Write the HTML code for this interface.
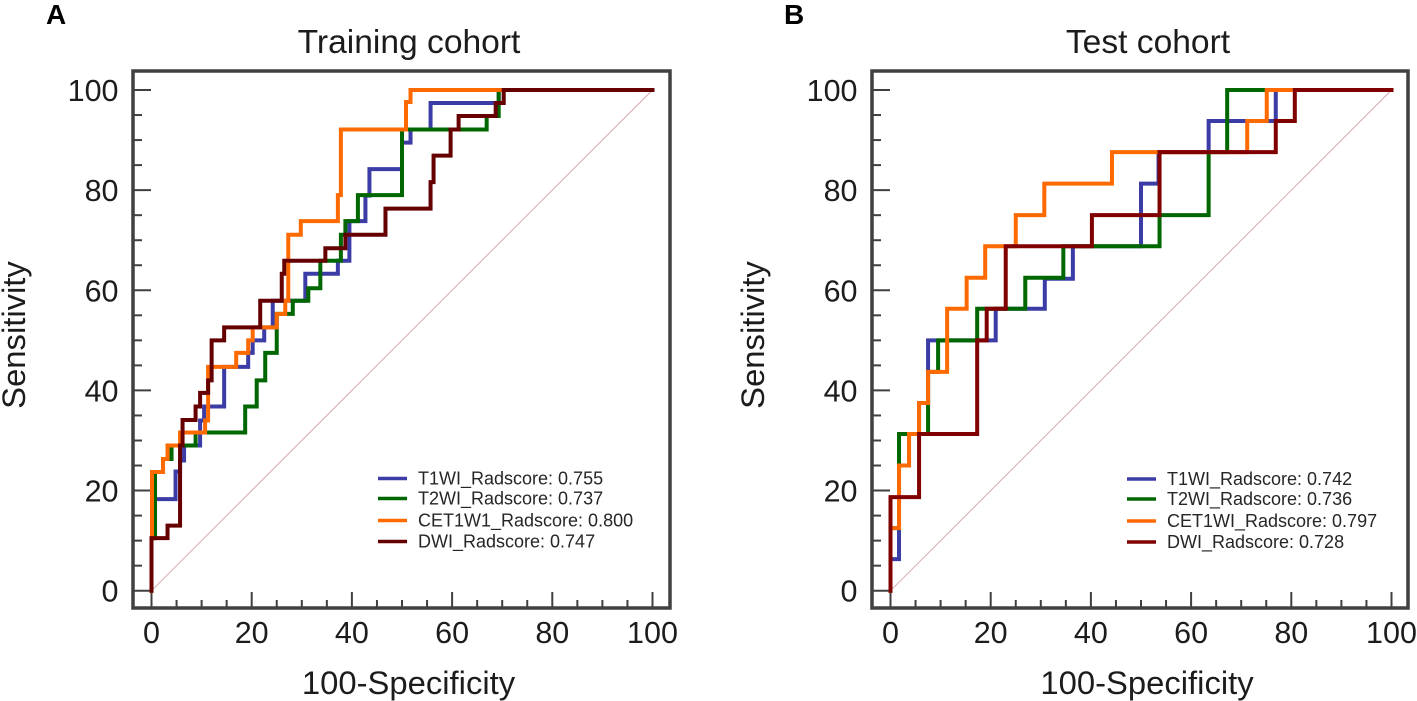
<!DOCTYPE html>
<html lang="en">
<head>
<meta charset="utf-8">
<title>ROC curves: training and test cohorts</title>
<style>
html,body{margin:0;padding:0;background:#fff;width:1417px;height:701px;overflow:hidden}
svg{display:block;font-family:"Liberation Sans",sans-serif;fill:#1c1c1c}
.frame{fill:none;stroke:#404040;stroke-width:3.5}
.tick{stroke:#404040;stroke-width:2}
.num{font-size:30.5px}
.title{font-size:33.6px;text-anchor:middle}
.axis{font-size:32.8px;text-anchor:middle}
.leg{font-size:18px;fill:#262626}
.letter{font-size:28px;font-weight:bold;fill:#000}
.curve{fill:none;stroke-width:4;stroke-linejoin:miter;stroke-linecap:square}
</style>
</head>
<body>
<svg id="figure" width="1417" height="701" viewBox="0 0 1417 701" xmlns="http://www.w3.org/2000/svg">
  <text class="letter" x="46" y="24">A</text>
  <text class="letter" x="784" y="24">B</text>
  <text class="title" x="409" y="53">Training cohort</text>
  <text class="title" x="1148" y="53">Test cohort</text>
  <text class="axis" x="408.5" y="694">100-Specificity</text>
  <text class="axis" x="1147" y="694">100-Specificity</text>
  <text class="axis" transform="translate(25,335) rotate(-90)">Sensitivity</text>
  <text class="axis" transform="translate(764,335) rotate(-90)">Sensitivity</text>
  <rect class="frame" x="133" y="71" width="537" height="537"/>
  <rect class="frame" x="872" y="71" width="536" height="537"/>
  <g id="panel-a"></g>
  <g id="panel-b"></g>
</svg>
<script>
// Shared axis values
const majorTicks = [0, 20, 40, 60, 80, 100];
const minorTicks = [5, 10, 15, 25, 30, 35, 45, 50, 55, 65, 70, 75, 85, 90, 95];
const chanceLineX = [0, 100];
const chanceLineY = [0, 100];

// Training cohort: each point is where a curve rises at x to reach y
const trainT1X = [0, 0.7, 4.8, 5.7, 6.5, 9.7, 10.5, 14.5, 19.3, 20.2, 22.5, 24.2, 30.7, 37.2, 39.5, 42.7, 43.5, 50, 51.7, 55.7, 69.3];
const trainT1Y = [10.5, 18.3, 23.8, 26, 29, 34, 36.8, 44.7, 47.5, 50, 52.6, 57.9, 63.3, 65.9, 73.8, 78.9, 84.2, 89.5, 92.1, 97.4, 100];
const trainT2X = [0, 0.7, 2.3, 4, 8.8, 18.7, 21, 22.7, 25, 28.2, 31.3, 33.7, 37.8, 38.7, 41.2, 50, 66.9, 69.3];
const trainT2Y = [10.5, 23.7, 26.3, 29, 31.6, 36.8, 42, 47.5, 55.3, 57.9, 60.4, 65.9, 71.1, 73.8, 79, 92.1, 94.8, 100];
const trainCetX = [0, 0.1, 2.3, 3.2, 5.7, 10.7, 11.3, 16.9, 19.3, 20.2, 25, 26.7, 27.3, 29.8, 37.2, 37.8, 50.8, 51.7];
const trainCetY = [10.5, 23.7, 26.3, 29, 31.6, 34, 44.7, 47.5, 50, 52.6, 55.3, 57.9, 71.1, 73.8, 79, 92.1, 97.6, 100];
const trainDwiX = [0, 3.2, 5.7, 6.2, 8.8, 9.7, 11.3, 12, 14.5, 21.7, 26, 26.5, 34.7, 38.7, 46.7, 55.7, 56.3, 59.7, 61.3, 68.7, 70.3];
const trainDwiY = [10.5, 13, 29, 34.1, 36.8, 39.5, 42, 50, 52.6, 57.9, 63.3, 65.9, 68.4, 71.1, 76.3, 81.6, 86.9, 92.1, 94.8, 97.4, 100];

// Test cohort
const testT1X = [0, 1.7, 3.7, 5.7, 7.5, 21, 30.8, 36.4, 50, 53.5, 63.5, 76.9];
const testT1Y = [6.3, 25, 31.3, 37.5, 50, 56.3, 62.3, 68.8, 81.3, 87.6, 93.8, 100];
const testT2X = [0, 1.7, 7.5, 9.5, 17.3, 26.9, 34.5, 53.7, 63.5, 67.2];
const testT2Y = [12.5, 31.3, 43.7, 50, 56.3, 62.5, 68.8, 75, 87.6, 100];
const testCetX = [0, 1.7, 3.7, 5.7, 7.5, 11.3, 15.2, 18.9, 25, 30.7, 44.2, 71.2, 75.1];
const testCetY = [12.5, 25, 31.3, 37.5, 43.7, 56.3, 62.5, 68.8, 75, 81.3, 87.6, 93.8, 100];
const testDwiX = [0, 5.7, 17.3, 19.2, 23, 40.2, 53.7, 76.9, 80.7];
const testDwiY = [18.7, 31.3, 50, 56.3, 68.8, 75, 87.6, 93.8, 100];

// Legend entries
const trainLegendLabels = ["T1WI_Radscore: 0.755", "T2WI_Radscore: 0.737", "CET1W1_Radscore: 0.800", "DWI_Radscore: 0.747"];
const testLegendLabels = ["T1WI_Radscore: 0.742", "T2WI_Radscore: 0.736", "CET1WI_Radscore: 0.797", "DWI_Radscore: 0.728"];
const seriesKeys = ["t1wi", "t2wi", "cet1wi", "dwi"];

const NS = "http://www.w3.org/2000/svg";
function make(parent, tag, attrs) {
  const el = document.createElementNS(NS, tag);
  for (const k in attrs) el.setAttribute(k, attrs[k]);
  parent.appendChild(el);
  return el;
}

function drawPanel(opts) {
  const g = document.getElementById(opts.id);
  const sx = v => opts.x0 + v * opts.xUnit;
  const sy = v => 590.7 - v * 5.007;

  majorTicks.forEach(v => {
    const yt = make(g, "line", {class: "tick", x1: opts.left, x2: opts.left + 18, y1: sy(v), y2: sy(v)});
    
    
    const xt = make(g, "line", {class: "tick", x1: sx(v), x2: sx(v), y1: 608, y2: 592});
    
    
    const yl = make(g, "text", {class: "num", x: opts.left - 14.5, y: sy(v) + 11, "text-anchor": "end"});
    yl.textContent = v;
    
    
    const xl = make(g, "text", {class: "num", x: sx(v), y: 643, "text-anchor": "middle"});
    xl.textContent = v;
    
    
  });
  minorTicks.forEach(v => {
    const yt = make(g, "line", {class: "tick", x1: opts.left, x2: opts.left + 9, y1: sy(v), y2: sy(v)});
    
    
    const xt = make(g, "line", {class: "tick", x1: sx(v), x2: sx(v), y1: 608, y2: 600});
    
    
  });

  const chance = make(g, "line", {
    x1: sx(chanceLineX[0]), y1: sy(chanceLineY[0]),
    x2: sx(chanceLineX[1]), y2: sy(chanceLineY[1]),
    stroke: "#d6a9ab", "stroke-width": 1
  });
  
  

  opts.series.forEach((s, i) => {
    let d = "M" + sx(s.xs[0]) + " " + sy(0);
    s.xs.forEach((x, j) => {
      d += " H" + sx(x) + " V" + sy(s.ys[j]);
    });
    d += " H" + sx(100);
    const path = make(g, "path", {class: "curve", d: d, stroke: s.color});
    
    

    const ly = opts.legendY[i];
    const swatch = make(g, "line", {x1: opts.legendX, x2: opts.legendX + 29, y1: ly, y2: ly, stroke: s.color, "stroke-width": 3.5});
    
    
    const label = make(g, "text", {class: "leg", x: opts.legendX + 40, y: ly + 6});
    label.textContent = opts.labels[i];
    
    
  });
}

drawPanel({
  id: "panel-a", left: 133, x0: 151.5, xUnit: 5.01,
  legendX: 378, legendY: [478.5, 498.5, 520.5, 541.5], labels: trainLegendLabels,
  series: [
    {xs: trainT1X, ys: trainT1Y, color: "#3c3ca6"},
    {xs: trainT2X, ys: trainT2Y, color: "#006600"},
    {xs: trainCetX, ys: trainCetY, color: "#ff6a00"},
    {xs: trainDwiX, ys: trainDwiY, color: "#660000"}
  ]
});
drawPanel({
  id: "panel-b", left: 872, x0: 890.5, xUnit: 5.01,
  legendX: 1127, legendY: [479, 499, 521, 542], labels: testLegendLabels,
  series: [
    {xs: testT1X, ys: testT1Y, color: "#3c3ca6"},
    {xs: testT2X, ys: testT2Y, color: "#006600"},
    {xs: testCetX, ys: testCetY, color: "#ff6a00"},
    {xs: testDwiX, ys: testDwiY, color: "#800000"}
  ]
});
</script>
</body>
</html>
